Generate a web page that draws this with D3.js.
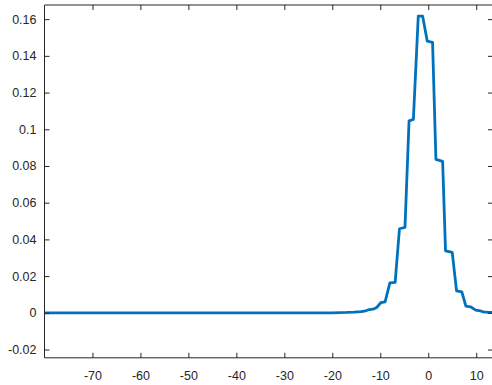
<!DOCTYPE html>
<html>
<head>
<meta charset="utf-8">
<script src="https://cdn.jsdelivr.net/npm/d3@7"></script>
<style>
  html, body { margin: 0; padding: 0; background: #fff; }
  svg { display: block; }
</style>
</head>
<body>
<svg id="chart" width="492" height="385"></svg>
<script>
// Distribution curve samples (x position, density)
const xValues = [-80, -20, -17, -15.5, -14, -13, -12.3, -11.5, -10.75, -9.9, -9.0, -8.0, -6.9, -6.0, -4.85, -4.0, -3.1,
  -2.08, -1.17, -0.2, 0.9, 1.6, 3.0, 3.6, 5.0, 5.9, 7.0, 7.85, 8.8, 9.9, 10.9, 11.5, 12.5, 14];
const yValues = [0, 0, 0.0002, 0.0004, 0.0007, 0.0011, 0.0018, 0.002, 0.0029, 0.0055, 0.006, 0.0163, 0.0166, 0.0458, 0.0465, 0.1046, 0.1054,
  0.1616, 0.1616, 0.148, 0.1474, 0.0836, 0.0825, 0.0338, 0.0329, 0.012, 0.0114, 0.0037, 0.0033, 0.0015, 0.0010, 0.0005, 0.0003, 0.0002];

const xTicks = [-70, -60, -50, -40, -30, -20, -10, 0, 10];
const xTickLabels = ["-70", "-60", "-50", "-40", "-30", "-20", "-10", "0", "10"];
const yTicks = [-0.02, 0, 0.02, 0.04, 0.06, 0.08, 0.1, 0.12, 0.14, 0.16];
const yTickLabels = ["-0.02", "0", "0.02", "0.04", "0.06", "0.08", "0.1", "0.12", "0.14", "0.16"];

const xDomain = [-80, 13.5];
const yDomain = [-0.0245, 0.1677];

const plotLeft = 44.5, plotRight = 493, plotTop = 5, plotBottom = 357.8;
const axisColor = "#262626";
const lineColor = "#0072BD";
const tickLen = 5;

const svg = d3.select("#chart");
const x = d3.scaleLinear().domain(xDomain).range([plotLeft, plotRight]);
const y = d3.scaleLinear().domain(yDomain).range([plotBottom, plotTop]);

svg.append("defs").append("clipPath").attr("id", "plotClip")
  .append("rect").attr("x", plotLeft).attr("y", plotTop)
  .attr("width", plotRight - plotLeft).attr("height", plotBottom - plotTop);

// data line
const data = xValues.map((v, i) => [v, yValues[i]]);
svg.append("path")
  .datum(data)
  .attr("clip-path", "url(#plotClip)")
  .attr("fill", "none")
  .attr("stroke", lineColor)
  .attr("stroke-width", 2.8)
  .attr("stroke-linejoin", "round")
  .attr("d", d3.line().x(d => x(d[0])).y(d => y(d[1])));

// axes box with inward ticks on all sides
const fontCss = "'Liberation Sans', Arial, Helvetica, sans-serif";

const bottomAxis = d3.axisBottom(x).tickValues(xTicks).tickSize(-tickLen).tickPadding(13)
  .tickFormat((d, i) => xTickLabels[i]);
const topAxis = d3.axisTop(x).tickValues(xTicks).tickSize(-tickLen).tickFormat("");
const leftAxis = d3.axisLeft(y).tickValues(yTicks).tickSize(-tickLen).tickPadding(8)
  .tickFormat((d, i) => yTickLabels[i]);
const rightAxis = d3.axisRight(y).tickValues(yTicks).tickSize(-tickLen).tickFormat("");

function styleAxis(g) {
  g.select(".domain").attr("stroke", axisColor).attr("stroke-width", 1);
  g.selectAll(".tick line").attr("stroke", axisColor).attr("stroke-width", 1);
  g.selectAll(".tick text").attr("fill", axisColor)
    .style("font-family", fontCss).style("font-size", "12.5px");
}

svg.append("g").attr("transform", `translate(0,${plotBottom})`).call(bottomAxis).call(styleAxis)
  .call(g => g.select(".domain").attr("d", `M${plotLeft},0H${plotRight}`));
svg.append("g").attr("transform", `translate(0,${plotTop})`).call(topAxis).call(styleAxis)
  .call(g => g.select(".domain").attr("d", `M${plotLeft},0H${plotRight}`));
svg.append("g").attr("transform", `translate(${plotLeft},0)`).call(leftAxis).call(styleAxis)
  .call(g => g.select(".domain").attr("d", `M0,${plotTop}V${plotBottom}`));
svg.append("g").attr("transform", `translate(${plotRight},0)`).call(rightAxis).call(styleAxis)
  .call(g => g.select(".domain").attr("d", `M0,${plotTop}V${plotBottom}`));
</script>
</body>
</html>
